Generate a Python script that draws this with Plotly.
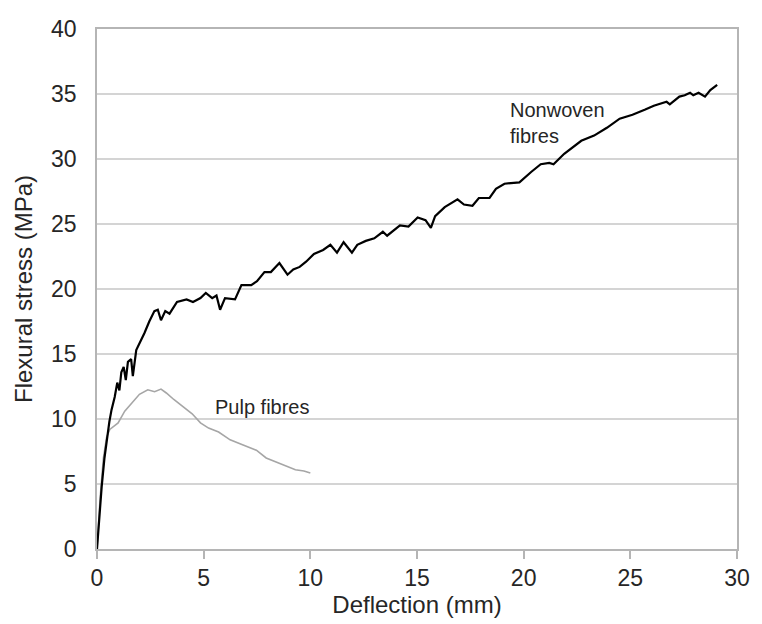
import plotly.graph_objects as go

# Nonwoven fibres (black)
nonwoven_x = [0, 0.1, 0.22, 0.35, 0.45, 0.58, 0.68, 0.83, 0.95, 1.05, 1.14, 1.25, 1.35, 1.45, 1.6, 1.68,
              1.84, 2.0, 2.22, 2.45, 2.69, 2.85, 3.0, 3.2, 3.4, 3.75, 4.2, 4.5, 4.85, 5.1, 5.4, 5.6,
              5.77, 6.0, 6.47, 6.77, 7.23, 7.5, 7.85, 8.15, 8.55, 8.93, 9.2, 9.5, 9.8, 10.17, 10.6,
              10.94, 11.25, 11.56, 11.95, 12.2, 12.6, 13.0, 13.4, 13.6, 14.2, 14.6, 15.03, 15.4,
              15.65, 15.85, 16.3, 16.9, 17.2, 17.6, 17.9, 18.4, 18.7, 19.1, 19.8, 20.35, 20.8, 21.2,
              21.4, 21.9, 22.7, 23.3, 23.9, 24.5, 25.1, 25.7, 26.1, 26.7, 26.85, 27.3, 27.55, 27.8,
              27.95, 28.2, 28.5, 28.75, 29.07]
nonwoven_y = [0, 2.5, 4.8, 7.0, 8.4, 9.8, 10.7, 11.7, 12.8, 12.2, 13.6, 14.0, 13.0, 14.4, 14.6, 13.3,
              15.3, 15.8, 16.6, 17.5, 18.3, 18.4, 17.6, 18.3, 18.1, 19.0, 19.2, 19.0, 19.3, 19.7, 19.3, 19.5,
              18.4, 19.3, 19.2, 20.3, 20.3, 20.6, 21.3, 21.3, 22.0, 21.1, 21.5, 21.7, 22.1, 22.7, 23.0,
              23.4, 22.8, 23.6, 22.8, 23.4, 23.7, 23.9, 24.4, 24.1, 24.9, 24.8, 25.5, 25.3,
              24.7, 25.6, 26.3, 26.9, 26.5, 26.4, 27.0, 27.0, 27.7, 28.1, 28.2, 29.0, 29.6, 29.7,
              29.6, 30.4, 31.4, 31.8, 32.4, 33.1, 33.4, 33.8, 34.1, 34.4, 34.2, 34.8, 34.9, 35.1,
              34.9, 35.1, 34.8, 35.3, 35.7]

# Pulp fibres (grey)
pulp_x = [0, 0.15, 0.3, 0.45, 0.6, 0.68, 0.99, 1.3, 1.6, 1.99, 2.38, 2.7, 3.0, 3.25, 3.6, 4.07, 4.46,
          4.85, 5.23, 5.7, 6.24, 6.85, 7.47, 7.93, 8.4, 8.86, 9.3, 9.7, 10.0]
pulp_y = [0, 4.0, 7.0, 8.6, 9.2, 9.3, 9.7, 10.6, 11.2, 11.9, 12.25, 12.1, 12.3, 12.0, 11.5, 10.9, 10.4,
          9.7, 9.3, 9.0, 8.4, 8.0, 7.6, 7.0, 6.7, 6.4, 6.1, 6.0, 5.85]

x_ticks = [0, 5, 10, 15, 20, 25, 30]
y_ticks = [0, 5, 10, 15, 20, 25, 30, 35, 40]

font_family = "Liberation Sans, Arial, sans-serif"
text_color = "#262626"

fig = go.Figure()
fig.add_trace(go.Scatter(x=pulp_x, y=pulp_y, mode="lines",
                         line=dict(color="#a6a6a6", width=1.6), name="Pulp fibres"))
fig.add_trace(go.Scatter(x=nonwoven_x, y=nonwoven_y, mode="lines",
                         line=dict(color="#000000", width=2.2), name="Nonwoven fibres"))

fig.add_annotation(x=19.26, y=32.8, text="Nonwoven<br>fibres", showarrow=False,
                   xanchor="left", yanchor="middle", align="left",
                   font=dict(family=font_family, size=20, color=text_color))
fig.add_annotation(x=5.46, y=10.95, text="Pulp fibres", showarrow=False,
                   xanchor="left", yanchor="middle", align="left",
                   font=dict(family=font_family, size=20, color=text_color))

fig.update_layout(
    width=762, height=624,
    margin=dict(l=97, r=17, t=29, b=75),
    paper_bgcolor="white", plot_bgcolor="white",
    showlegend=False,
    font=dict(family=font_family, color=text_color),
)
fig.update_xaxes(range=[0, 30], tickvals=x_ticks, showgrid=False, zeroline=False,
                 showline=True, linecolor="#b5b5b5", linewidth=1.5, mirror=True,
                 ticks="outside", ticklen=8, tickcolor="#b5b5b5", tickwidth=1.5,
                 tickfont=dict(size=23),
                 title=dict(text="Deflection (mm)", font=dict(size=24), standoff=2))
fig.update_yaxes(range=[0, 40], tickvals=y_ticks, showgrid=True, gridcolor="#d4d4d4", gridwidth=1.5,
                 zeroline=False, showline=True, linecolor="#b5b5b5", linewidth=1.5, mirror=True,
                 ticks="", tickfont=dict(size=23), ticklabelstandoff=14,
                 title=dict(text="Flexural stress (MPa)", font=dict(size=24), standoff=12))

fig.write_html("out.html")
